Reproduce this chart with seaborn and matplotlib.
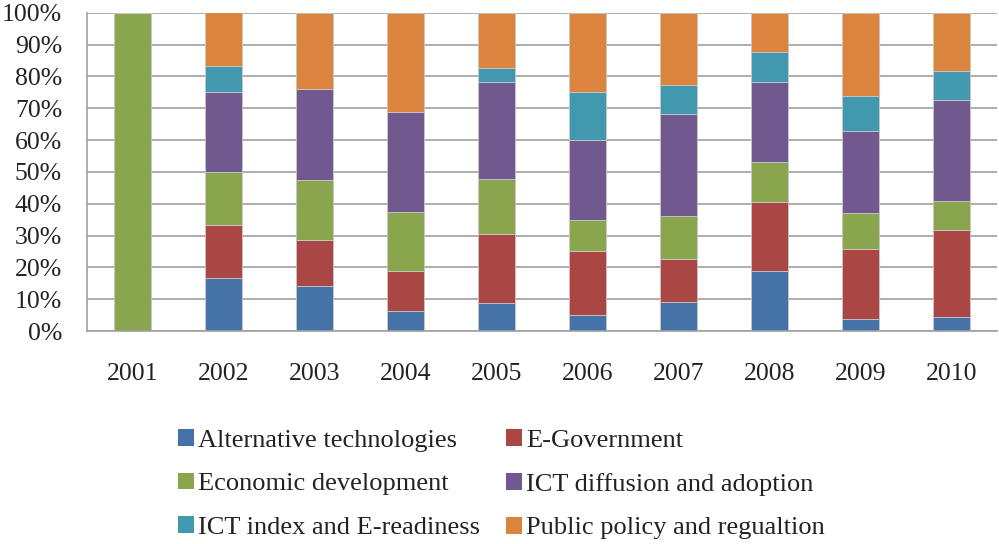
import numpy as np
import pandas as pd
import seaborn as sns
import matplotlib.pyplot as plt
from matplotlib.patches import Patch

years = ["2001", "2002", "2003", "2004", "2005", "2006", "2007", "2008", "2009", "2010"]
topics = ["Alternative technologies", "E-Government", "Economic development",
          "ICT diffusion and adoption", "ICT index and E-readiness",
          "Public policy and regualtion"]

# share of each topic per year (%)
alt_tech = [0, 16.7, 14.3, 6.25, 8.7, 5.0, 9.1, 18.75, 3.7, 4.5]
e_gov = [0, 16.7, 14.3, 12.5, 21.7, 20.0, 13.6, 21.9, 22.2, 27.3]
econ_dev = [100, 16.7, 19.0, 18.75, 17.4, 10.0, 13.6, 12.5, 11.1, 9.1]
ict_diff = [0, 25.0, 28.6, 31.25, 30.4, 25.0, 31.8, 25.0, 25.9, 31.8]
ict_index = [0, 8.3, 0, 0, 4.3, 15.0, 9.1, 9.4, 11.1, 9.1]
policy = [0, 16.7, 23.8, 31.25, 17.4, 25.0, 22.7, 12.5, 25.9, 18.2]

colors = ["#4572A7", "#AA4643", "#89A54E", "#71588F", "#4198AF", "#DB843D"]

df = pd.DataFrame({"year": years})
for name, vals in zip(topics, [alt_tech, e_gov, econ_dev, ict_diff, ict_index, policy]):
    df[name] = vals

sns.set_style("white")
plt.rcParams["font.family"] = ["Liberation Serif", "DejaVu Serif"]

fig = plt.figure(figsize=(9.99, 5.44), dpi=100)
ax = fig.add_axes([0.0871, 0.3915, 0.911, 0.585])

bottom = np.zeros(len(years))
for name, c in zip(topics, colors):
    sns.barplot(x="year", y=name, data=df, color=c, bottom=bottom, width=0.4,
                saturation=1, ax=ax, linewidth=0.6, edgecolor="#c8c8c8")
    bottom = bottom + df[name].values

ax.set_xlim(-0.5, len(years) - 0.5)
ax.set_ylim(0, 100)
ax.set_yticks(np.arange(0, 101, 10))
ax.set_yticklabels([f"{v}%" for v in range(0, 101, 10)])
ax.yaxis.grid(True, color="#a0a0a0", linewidth=1.2)
ax.set_axisbelow(True)
ax.set_xlabel("")
ax.set_ylabel("")

ax.set_xticks(np.arange(-0.5, len(years), 1), minor=True)
ax.tick_params(axis="x", which="major", length=0, pad=23, labelsize=18.5, labelcolor="#222222")
ax.tick_params(axis="x", which="minor", length=7, color="#a0a0a0", width=1.2, direction="out")
ax.tick_params(axis="y", which="major", length=7, color="#a0a0a0", width=1.2, pad=11,
               labelsize=18.5, labelcolor="#222222")

for s in ["top", "right"]:
    ax.spines[s].set_visible(False)
for s in ["left", "bottom"]:
    ax.spines[s].set_color("#a0a0a0")
    ax.spines[s].set_linewidth(1.2)

# legend reads row by row, matplotlib fills by column
order = [0, 2, 4, 1, 3, 5]
handles = [Patch(facecolor=colors[i], edgecolor="none") for i in order]
labels = [topics[i] for i in order]
fig.legend(handles, labels, ncol=2, loc="center", bbox_to_anchor=(0.502, 0.11),
           frameon=False, fontsize=19, handlelength=0.6, handleheight=0.6,
           handletextpad=0.15, columnspacing=1.0, labelspacing=0.8,
           labelcolor="#222222", borderpad=0)

fig.savefig("out.png", dpi=100)
